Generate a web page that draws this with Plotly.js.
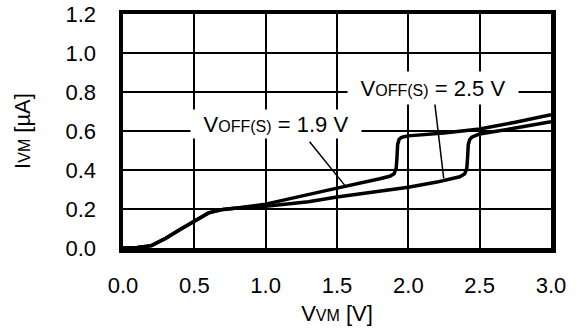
<!DOCTYPE html>
<html>
<head>
<meta charset="utf-8">
<script src="https://cdn.plot.ly/plotly-3.0.1.min.js"></script>
<style>html,body{margin:0;padding:0;background:#fff;}#chart{width:581px;height:329px;}</style>
</head>
<body>
<div id="chart"></div>
<script>
// Curve for VOFF(S) = 1.9 V
const voff19X = [0, 0.1, 0.2, 0.3, 0.4, 0.5, 0.6, 0.7, 0.8, 1.0, 1.2, 1.5, 1.8, 1.87, 1.9, 1.915, 1.92, 1.925, 1.935, 1.95, 1.97, 2.0, 2.25, 2.5, 2.75, 3.0];
const voff19Y = [0, 0.003, 0.012, 0.05, 0.095, 0.14, 0.18, 0.198, 0.205, 0.225, 0.256, 0.307, 0.355, 0.368, 0.38, 0.41, 0.46, 0.53, 0.556, 0.566, 0.571, 0.575, 0.59, 0.61, 0.645, 0.683];
// Curve for VOFF(S) = 2.5 V
const voff25X = [0, 0.1, 0.2, 0.3, 0.4, 0.5, 0.6, 0.7, 0.8, 1.0, 1.3, 1.5, 1.75, 2.0, 2.2, 2.36, 2.395, 2.41, 2.415, 2.42, 2.43, 2.445, 2.47, 2.5, 2.75, 3.0];
const voff25Y = [0, 0.003, 0.012, 0.05, 0.095, 0.14, 0.18, 0.198, 0.205, 0.214, 0.237, 0.262, 0.285, 0.312, 0.338, 0.365, 0.38, 0.41, 0.46, 0.53, 0.556, 0.568, 0.576, 0.585, 0.615, 0.648];
// Leader lines from labels to curves
const leader19X = [1.308, 1.566];
const leader19Y = [0.545, 0.311];
const leader25X = [2.185, 2.248];
const leader25Y = [0.744, 0.357];
// Labels
const labelTexts = ['V<span style="font-size:16px">OFF(S)</span> = 1.9 V', 'V<span style="font-size:16px">OFF(S)</span> = 2.5 V'];
const labelX = [1.075, 2.175];
const labelY = [0.6, 0.8];
// Ticks
const xTicks = [0, 0.5, 1.0, 1.5, 2.0, 2.5, 3.0];
const xTickText = ['0.0', '0.5', '1.0', '1.5', '2.0', '2.5', '3.0'];
const yTicks = [0, 0.2, 0.4, 0.6, 0.8, 1.0, 1.2];
const yTickText = ['0.0', '0.2', '0.4', '0.6', '0.8', '1.0', '1.2'];

const FONT = 'Arial, "Liberation Sans", sans-serif';

const traces = [
  {x: voff19X, y: voff19Y, mode: 'lines', line: {color: '#000', width: 3.5}, hoverinfo: 'none'},
  {x: voff25X, y: voff25Y, mode: 'lines', line: {color: '#000', width: 3.5}, hoverinfo: 'none'},
  {x: leader19X, y: leader19Y, mode: 'lines', line: {color: '#000', width: 1.5}, hoverinfo: 'none'},
  {x: leader25X, y: leader25Y, mode: 'lines', line: {color: '#000', width: 1.5}, hoverinfo: 'none'}
];

const annotations = labelTexts.map((t, i) => ({
  x: labelX[i], y: labelY[i], xref: 'x', yref: 'y', text: t, showarrow: false,
  xanchor: 'center', yanchor: 'middle', yshift: i === 0 ? 7 : 4,
  width: 168, height: i === 0 ? 26 : 30, bgcolor: '#fff',
  font: {family: FONT, size: 22, color: '#000'}
}));

const layout = {
  width: 581, height: 329,
  margin: {l: 123, r: 30, t: 14, b: 81, pad: 0},
  paper_bgcolor: '#fff', plot_bgcolor: '#fff',
  showlegend: false,
  font: {family: FONT, size: 22, color: '#000'},
  xaxis: {
    range: [0, 3], tickvals: xTicks, ticktext: xTickText,
    showgrid: true, gridcolor: '#000', gridwidth: 2, zeroline: false,
    showline: true, mirror: true, linecolor: '#000', linewidth: 4.5,
    ticks: '', ticklabelstandoff: 14,
    tickfont: {family: FONT, size: 22, color: '#000'},
    title: {text: 'V<span style="font-size:16px">VM</span> [V]', standoff: 10, font: {family: FONT, size: 22, color: '#000'}}
  },
  yaxis: {
    range: [0, 1.2], tickvals: yTicks, ticktext: yTickText,
    showgrid: true, gridcolor: '#000', gridwidth: 2, zeroline: false,
    showline: true, mirror: true, linecolor: '#000', linewidth: 4.5,
    ticks: '', ticklabelstandoff: 18,
    tickfont: {family: FONT, size: 22, color: '#000'},
    title: {text: 'I<span style="font-size:16px">VM</span> [µA]', standoff: 30, font: {family: FONT, size: 22, color: '#000'}}
  },
  annotations: annotations
};

Plotly.newPlot('chart', traces, layout, {staticPlot: true, displayModeBar: false});
</script>
</body>
</html>
